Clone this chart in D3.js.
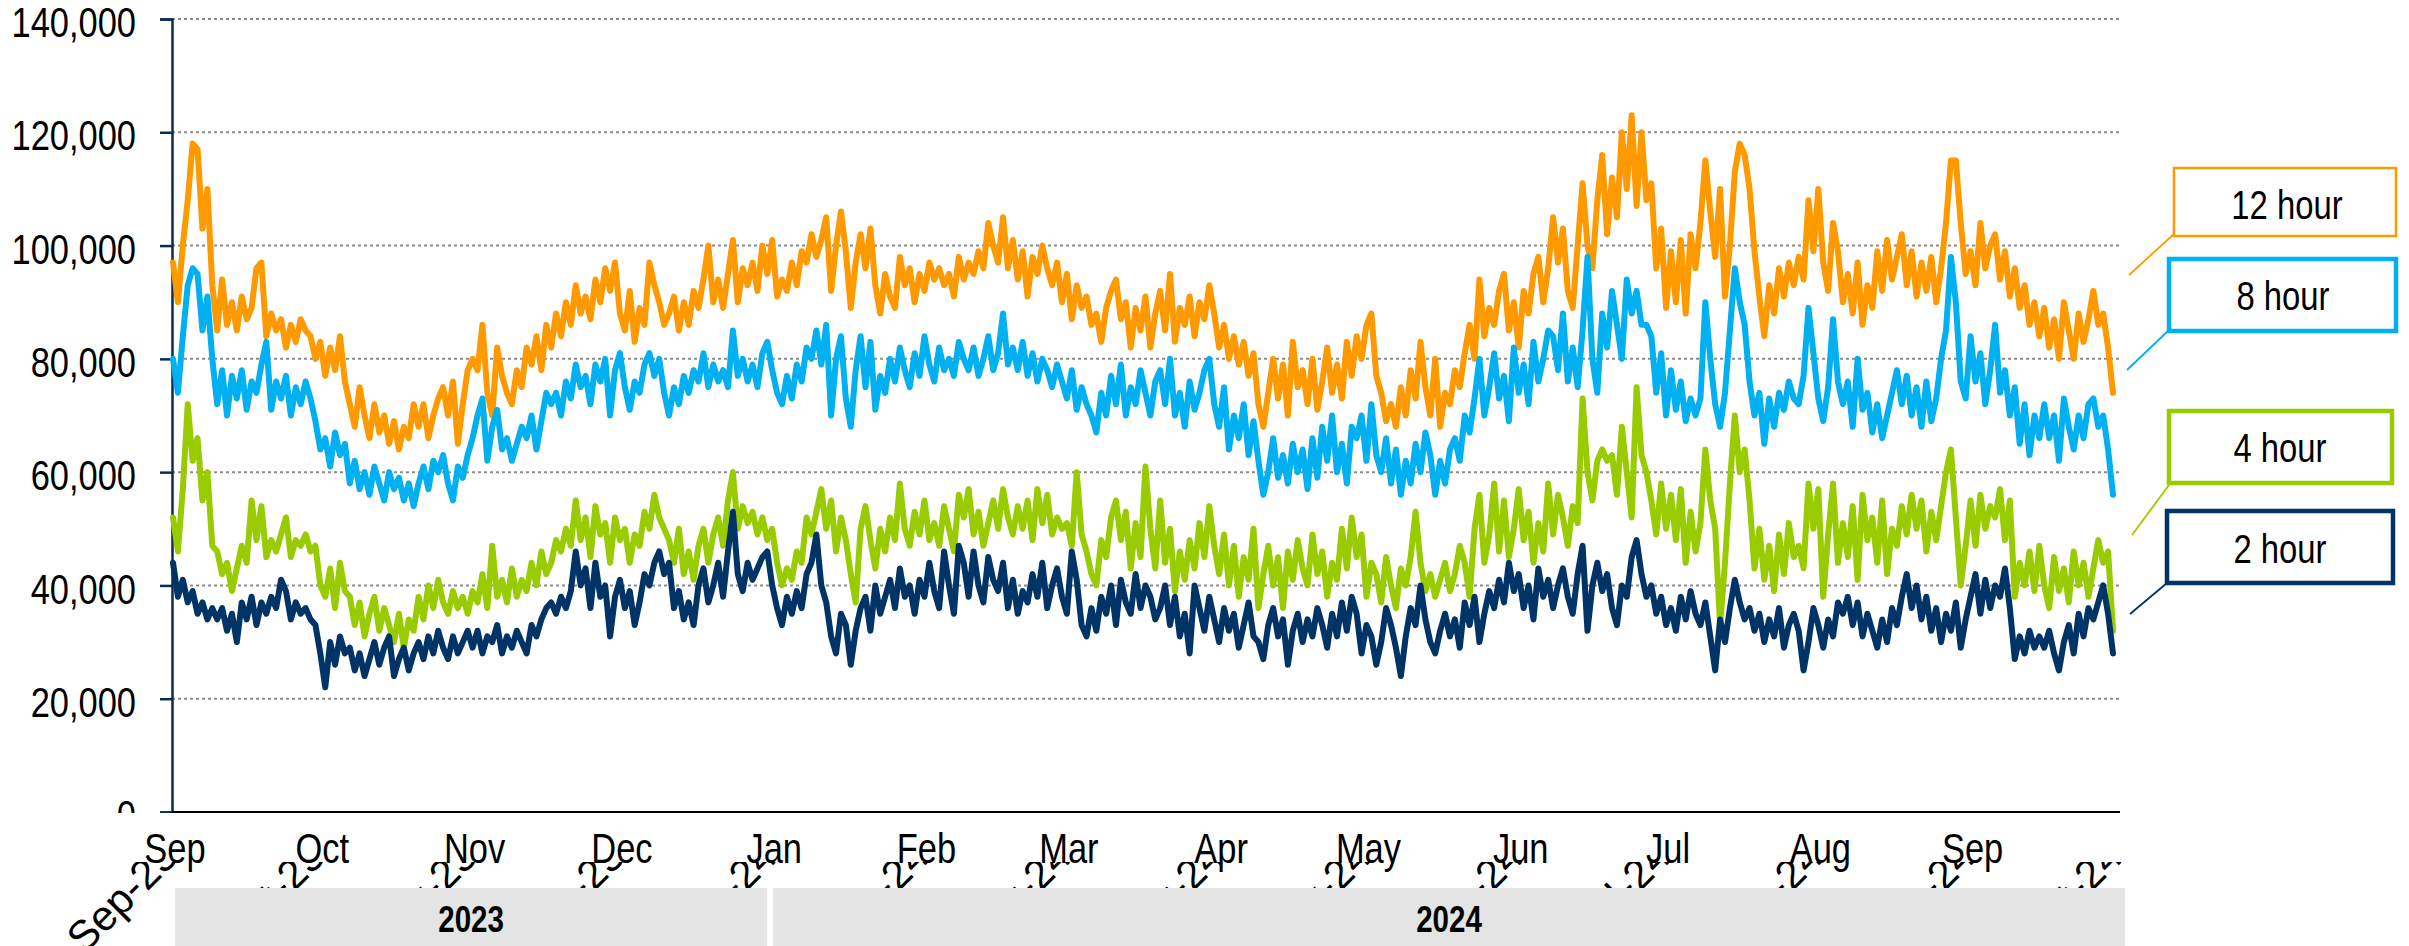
<!DOCTYPE html>
<html><head><meta charset="utf-8">
<script src="https://cdn.jsdelivr.net/npm/d3@7"></script>
<style>
html,body{margin:0;padding:0;background:#fff;}
svg{display:block;}
text{font-family:'Liberation Sans',Arial,sans-serif;}
</style></head><body>
<svg id="chart" width="2409" height="946"></svg>
<script>
// ---- DATA (daily, thousands) ----
const START_DATE = "2023-09-01";
const UNIT = 1000;
const h12 = [
97,90,100,108,118,117,103,110,93,
85,94,86,90,85,91,87,89,96,97,
84,88,85,87,82,86,83,87,85,84,
80,83,77,82,78,84,76,
72,68,75,70,66,72,67,70,65,69,64,68,66,72,
68,72,66,70,73,75,70,76,65,72,78,
80,78,86,74,70,82,77,74,72,78,75,82,79,84,78,86,
82,88,84,90,86,93,88,91,87,94,90,96,92,97,88,85,92,83,89,86,97,93,90,86,
88,91,85,90,86,92,89,94,100,90,
94,89,95,101,90,96,93,97,92,100,
95,101,91,94,92,97,93,99,97,102,
98,101,105,92,100,106,99,89,97,102,
96,103,93,88,95,91,89,98,93,96,
90,95,92,97,94,96,93,95,91,98,
94,97,95,99,96,104,100,97,105,96,
101,94,99,91,98,95,100,96,93,97,
90,95,87,93,89,91,86,88,83,89,
92,94,87,90,82,89,85,91,82,88,
92,85,95,83,89,86,91,84,90,87,
93,88,82,86,80,84,79,83,77,81,
72,68,74,80,73,79,70,83,75,78,
72,80,71,76,82,74,79,73,83,77,
84,80,86,88,77,74,69,72,68,75,
70,78,73,83,75,70,80,68,74,72,
78,75,81,86,80,94,84,89,86,92,
95,85,90,82,92,88,95,98,90,96,
105,97,103,92,89,100,111,100,96,108,
116,102,112,105,120,110,123,107,120,108,
111,96,103,89,99,90,101,88,102,96,
104,115,106,98,110,91,100,113,118,116,
110,99,91,84,93,88,96,91,97,93,
98,94,108,99,110,97,92,104,99,90,
95,88,97,86,93,89,99,92,101,94,
98,102,93,99,91,97,92,98,90,96,
104,115,115,104,95,99,93,104,96,100,
102,94,99,91,96,89,93,86,90,84,
89,82,87,80,90,85,80,88,83,87,
92,86,88,82,74
];
const h8 = [
80,74,84,93,96,95,85,91,80,
72,78,70,77,73,78,71,76,74,79,
83,71,76,73,77,70,75,72,76,73,
69,64,66,61,67,63,65,
58,62,57,60,56,61,58,55,60,57,59,55,58,54,
58,61,57,62,60,63,58,55,61,59,63,
66,70,73,62,68,71,64,66,62,65,68,66,70,64,69,74,
72,74,70,76,73,79,75,77,72,79,76,80,70,78,81,75,71,76,74,79,81,77,80,74,
70,75,72,77,74,78,76,81,75,79,
76,78,75,85,77,80,76,79,75,81,
83,78,74,72,77,73,79,76,82,80,
85,79,86,70,80,84,73,68,78,84,
75,83,71,77,74,80,76,82,78,75,
81,77,84,79,76,82,78,80,77,83,
80,78,82,77,80,84,78,81,88,79,
82,78,83,77,81,76,80,78,75,79,
76,73,78,71,75,72,70,67,74,70,
77,72,79,70,75,72,78,74,70,76,
78,72,80,70,74,68,76,71,74,78,
80,72,68,75,64,70,66,72,63,69,
62,56,60,66,59,63,58,65,60,64,
57,66,59,68,62,70,60,65,58,68,
66,70,62,72,63,60,66,58,64,56,
62,58,65,60,67,63,56,62,58,64,
66,62,70,67,73,80,70,75,81,73,
77,69,82,74,79,72,83,76,80,85,
84,78,88,76,82,75,85,98,80,74,
88,82,92,86,80,94,88,92,86,86,
84,74,81,70,78,71,76,69,73,70,
73,90,80,72,68,74,85,96,90,86,
76,70,74,65,73,68,74,71,76,73,
72,77,89,81,73,69,75,87,76,72,
76,68,80,71,74,67,72,66,70,74,
78,72,77,70,75,68,76,69,73,80,
85,98,90,76,73,84,76,81,72,78,
86,74,78,70,75,65,72,63,70,66,
72,66,70,62,73,68,64,70,66,72,
73,68,70,64,56
];
const h4 = [
52,46,57,72,62,66,55,60,47,
46,42,44,39,43,47,44,55,48,54,
45,48,46,49,52,45,48,47,49,46,
47,40,38,43,36,44,39,
38,33,37,31,35,38,32,36,33,30,35,29,34,32,
38,34,40,36,41,37,35,39,36,38,35,
39,37,42,36,47,38,41,37,43,38,41,39,44,40,46,42,
44,48,46,50,47,55,48,52,45,54,49,51,44,52,48,50,44,49,47,53,50,56,52,50,
48,44,50,42,46,41,47,50,44,49,
52,47,55,60,50,54,51,53,49,52,
48,50,44,40,43,41,46,44,52,49,
53,57,50,55,46,52,48,42,37,50,
54,48,43,50,46,52,48,58,50,47,
53,49,55,48,51,47,54,50,46,56,
52,57,49,53,47,51,55,50,57,52,
49,54,50,55,48,57,51,56,49,52,
50,51,47,60,49,46,42,40,48,45,
52,55,48,53,43,51,45,61,50,43,
55,44,50,39,46,41,48,43,51,45,
54,47,42,49,40,47,38,45,41,50,
36,42,47,40,45,36,46,41,48,43,
40,49,42,46,38,44,41,50,43,52,
45,49,38,44,42,37,45,40,36,43,
40,45,53,44,39,42,38,41,44,39,
42,47,44,38,50,56,44,49,58,46,
55,45,50,57,48,53,44,51,46,58,
49,56,52,47,54,51,73,60,55,62,
64,62,63,56,68,60,52,75,63,60,
55,49,58,50,56,48,57,44,53,46,
51,64,55,50,33,44,58,70,60,64,
55,43,50,41,47,39,49,42,51,45,
47,43,58,50,57,38,49,58,44,51,
45,54,41,56,48,52,44,55,42,50,
47,54,49,56,50,55,46,53,48,54,
60,64,52,40,47,55,47,56,50,54,
52,57,48,55,38,44,40,46,39,47,
40,36,45,39,43,37,46,40,44,38,
43,48,44,46,32
];
const h2 = [
44,38,41,37,39,35,37,34,36,
34,36,32,35,30,37,34,38,33,37,
35,38,36,41,39,34,37,35,36,34,
33,28,22,30,26,31,28,
29,25,28,24,27,30,26,29,31,24,27,29,25,28,
30,27,31,28,32,29,27,31,28,30,32,
29,32,28,31,30,33,28,31,29,32,30,28,33,31,34,36,
37,35,38,36,39,46,40,43,36,44,38,40,31,38,41,36,39,33,37,42,40,44,46,42,
44,36,39,34,37,33,40,43,37,40,
44,38,46,53,42,39,44,41,43,45,
46,40,36,33,38,35,39,36,42,44,
49,40,37,31,28,35,33,26,32,36,
38,32,40,35,38,41,36,43,38,40,
35,41,38,44,39,36,46,40,35,47,
44,38,46,40,37,45,41,39,44,36,
41,35,39,37,42,38,44,36,40,43,
38,35,46,41,33,31,36,32,38,35,
40,33,41,37,35,42,36,40,38,34,
36,40,33,38,31,35,28,40,36,32,
38,34,30,36,32,35,29,33,37,31,
30,27,33,36,31,34,26,32,35,30,
34,31,36,33,29,35,31,37,32,38,
35,28,33,31,26,30,36,33,29,24,
31,36,33,40,34,30,28,32,35,31,
34,29,37,33,38,30,35,39,36,41,
37,44,39,42,36,40,34,43,38,41,
36,40,43,38,35,42,47,32,40,44,
39,42,36,33,40,38,45,48,42,38,
40,35,38,33,36,32,38,34,39,35,
33,37,31,25,34,30,36,41,37,34,
36,32,35,30,34,31,36,29,33,35,
32,25,30,36,33,29,34,31,37,35,
38,33,37,31,35,32,29,34,30,36,
33,38,42,36,40,34,38,32,36,30,
35,32,37,29,34,38,42,35,41,36,
40,38,43,36,27,31,28,32,29,31,
29,32,28,25,30,33,28,35,31,36,
34,37,40,35,28
];
const seriesNames = ["12 hour", "8 hour", "4 hour", "2 hour"];
const seriesColors = ["#FF9900", "#00B0F0", "#99CC00", "#003366"];
const yTicks = [0, 20000, 40000, 60000, 80000, 100000, 120000, 140000];
const monthLabels = ["Sep","Oct","Nov","Dec","Jan","Feb","Mar","Apr","May","Jun","Jul","Aug","Sep"];
const dateTickLabels = ["Sep-23","Oct-23","Nov-23","Dec-23","Jan-24","Feb-24","Mar-24","Apr-24","May-24","Jun-24","Jul-24","Aug-24","Sep-24","Oct-24"];
const yearLabels = ["2023", "2024"];

// ---- helpers ----
const NARROW = 0.82;
function narrow(sel, f) {
  sel.each(function () {
    const w = this.getComputedTextLength();
    this.setAttribute("textLength", w * (f || NARROW));
    this.setAttribute("lengthAdjust", "spacingAndGlyphs");
  });
}

// ---- LAYOUT ----
const svg = d3.select("#chart");
const parse = d3.timeParse("%Y-%m-%d");
const start = parse(START_DATE);
const nDays = h12.length;
const dates = d3.range(nDays).map(i => d3.timeDay.offset(start, i));
const end = dates[nDays - 1];
const x = d3.scaleTime().domain([start, end]).range([173, 2113]);
const y = d3.scaleLinear().domain([0, 140000]).range([812, 19]);
const plotRight = 2120;
const navy = "#0B2B55";

// gridlines
svg.append("g").selectAll("line").data(yTicks.filter(v => v > 0)).join("line")
  .attr("x1", 172).attr("x2", plotRight)
  .attr("y1", d => y(d)).attr("y2", d => y(d))
  .attr("stroke", "#8c8c8c").attr("stroke-width", 2).attr("stroke-dasharray", "3,3");

// y axis
const yAxis = d3.axisLeft(y).tickValues(yTicks).tickSize(12).tickPadding(24)
  .tickFormat(d3.format(","));
const gy = svg.append("g").attr("transform", "translate(172,0)").call(yAxis);
gy.select(".domain").attr("stroke", navy).attr("stroke-width", 2.5);
gy.selectAll(".tick line").attr("stroke", navy).attr("stroke-width", 2.5);
gy.selectAll(".tick text").attr("font-size", 42).attr("fill", "#000").attr("dy", "0.42em")
  .attr("font-family", "'Liberation Sans',Arial,sans-serif");
narrow(gy.selectAll(".tick text"));

// series lines
const allSeries = [h12, h8, h4, h2];
const line = d3.line().x((d, i) => x(dates[i])).y(d => y(d * UNIT));
svg.append("g").selectAll("path").data(allSeries).join("path")
  .attr("d", d => line(d))
  .attr("fill", "none")
  .attr("stroke", (d, i) => seriesColors[i])
  .attr("stroke-width", 6)
  .attr("stroke-linejoin", "round").attr("stroke-linecap", "round");

// rotated date tick labels (partly hidden, as in the original)
const monthStarts = d3.timeMonth.range(start, d3.timeDay.offset(d3.timeMonth.offset(start, 13), 1));
const rot = svg.append("g");
rot.selectAll("text").data(dateTickLabels).join("text")
  .attr("transform", (d, i) => `translate(${x(monthStarts[i]) + 7},859) rotate(-45)`)
  .attr("text-anchor", "end")
  .attr("font-size", 42)
  .attr("fill", "#000")
  .text(d => d);

// white cover under the plot (the month label strip)
svg.append("rect").attr("x", 90).attr("y", 813).attr("width", 2060).attr("height", 49).attr("fill", "#fff");

// x axis baseline
svg.append("line").attr("x1", 172).attr("x2", plotRight).attr("y1", 812).attr("y2", 812)
  .attr("stroke", "#000").attr("stroke-width", 2);

// month labels
const ml = svg.append("g").selectAll("text").data(monthLabels).join("text")
  .attr("x", (d, i) => x(monthStarts[i]) + 2)
  .attr("y", 863)
  .attr("text-anchor", "middle")
  .attr("font-size", 42).attr("fill", "#000")
  .text(d => d);
narrow(ml);

// year bands
const jan1 = d3.timeYear.ceil(start);
const bandEnd = monthStarts[monthStarts.length - 1];
const bands = [
  {label: yearLabels[0], x0: x(start) + 2, x1: x(jan1) - 5},
  {label: yearLabels[1], x0: x(jan1) + 1, x1: x(bandEnd) + 7}
];
const gb = svg.append("g");
gb.selectAll("rect").data(bands).join("rect")
  .attr("x", d => d.x0).attr("y", 888).attr("width", d => d.x1 - d.x0).attr("height", 58)
  .attr("fill", "#E4E4E4");
const yl = gb.selectAll("text").data(bands).join("text")
  .attr("x", d => (d.x0 + d.x1) / 2).attr("y", 932)
  .attr("text-anchor", "middle").attr("font-size", 36).attr("font-weight", "bold")
  .attr("fill", "#000").text(d => d.label);
narrow(yl);

// legend callouts
const legendBoxes = [
  {x: 2174, y: 168, w: 222, h: 68, sw: 2.5, tx: 2287, ty: 219, lx: 2129, ly: 275, cy: 234},
  {x: 2169, y: 259, w: 227, h: 72, sw: 4.5, tx: 2283, ty: 310, lx: 2127, ly: 370, cy: 330},
  {x: 2169, y: 411, w: 223, h: 72, sw: 4.5, tx: 2280, ty: 462, lx: 2132, ly: 535, cy: 485},
  {x: 2167, y: 511, w: 226, h: 72, sw: 4.5, tx: 2280, ty: 563, lx: 2130, ly: 614, cy: 583}
];
const gl = svg.append("g");
legendBoxes.forEach((b, i) => {
  gl.append("line").attr("x1", b.x).attr("y1", b.cy).attr("x2", b.lx).attr("y2", b.ly)
    .attr("stroke", seriesColors[i]).attr("stroke-width", 1.8);
  gl.append("rect").attr("x", b.x).attr("y", b.y).attr("width", b.w).attr("height", b.h)
    .attr("fill", "#fff").attr("stroke", seriesColors[i]).attr("stroke-width", b.sw);
  const t = gl.append("text").attr("x", b.tx).attr("y", b.ty).attr("text-anchor", "middle")
    .attr("font-size", 40).attr("fill", "#000").text(seriesNames[i]);
  narrow(t);
});
</script>
</body></html>
